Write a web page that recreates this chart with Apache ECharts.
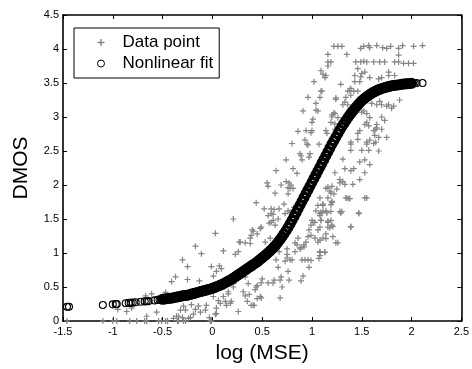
<!DOCTYPE html>
<html>
<head>
<meta charset="utf-8">
<script src="https://cdn.jsdelivr.net/npm/echarts@6/dist/echarts.min.js"></script>
<style>html,body{margin:0;padding:0;background:#fff}#c{width:472px;height:369px}</style>
</head>
<body>
<div id="c"></div>
<script>
// ---- Data ----
var seriesNames = ['Data point', 'Nonlinear fit'];
var xTickValues = [-1.5, -1, -0.5, 0, 0.5, 1, 1.5, 2, 2.5];
var yTickValues = [0, 0.5, 1, 1.5, 2, 2.5, 3, 3.5, 4, 4.5];

// scatter "+" points: [log(MSE), DMOS]
var dataPoints = [
 [-1.46,0],[-1.10,0],[-1.0,0],[-0.96,0],[-0.83,0],[-0.76,0],[-0.68,0],[-0.66,0],[-0.54,0],[-0.51,0],
 [-0.47,0],[-0.45,0],[-0.35,0],[-0.34,0],[-0.29,0],[-0.27,0],[-0.02,0],[-0.01,0],
 [-0.95,0.17],[-0.86,0.14],[-0.81,0.19],[-0.67,0.37],[-0.56,0.13],[-0.47,0.42],[-0.66,0.07],[-0.61,0.40],
 [-0.17,1.1],[-0.11,0.99],[0.11,1.03],[0.03,1.29],[0.21,1.5],[-0.3,0.9],[-0.25,0.8],[-0.37,0.65],[-0.41,0.58],
 [-0.25,0.61],[-0.13,0.59],[0.01,0.66],[0.07,0.81],[0.09,0.77],[0.04,0.73],[-0.01,0.8],
 [-0.29,0.22],[-0.21,0.24],[-0.14,0.22],[-0.06,0.23],[-0.27,0.16],[-0.07,0.16],[0.03,0.1],[-0.03,0.05],
 [-0.34,0.07],[-0.3,0.05],[-0.22,0.05],[-0.32,0.16],[-0.17,0.17],[-0.12,0.13],[-0.19,0.1],[-0.24,0.04],
 [-0.39,0.04],[-0.36,0.07],
 [0.16,0.4],[0.21,0.5],[0.19,0.29],[0.13,0.29],[0.08,0.26],[0.04,0.19],[0.26,0.14],[0.06,0.3],[0.11,0.36],
 [0.01,0.36],[0.18,0.26],[0.14,0.23],[0.04,0.11],
 [0.44,1.74],[0.4,1.34],[0.38,1.22],[0.28,1.16],[0.33,1.15],[0.23,0.98],[0.26,1.02],[0.33,0.65],[0.36,0.55],
 [0.21,0.55],[0.43,0.46],[0.16,0.43],[0.31,0.43],[0.33,0.37],[0.35,0.29],[0.41,0.23],
 [0.74,2.37],[0.89,2.43],[0.9,2.37],[0.97,2.41],[0.81,2.24],[0.85,2.17],[0.64,2.21],[0.56,1.98],[0.69,2.0],
 [0.74,2.05],[0.79,2.0],[0.81,1.95],[0.63,1.88],[0.76,1.87],[0.52,1.65],[0.59,1.65],[0.67,1.65],[0.76,1.62],
 [0.61,1.57],[0.57,1.44],[0.61,1.48],[0.49,1.38],[0.48,1.36],[0.41,1.32],[0.45,1.28],[0.53,1.16],[0.58,1.22],
 [0.63,1.12],[0.38,1.14],[0.64,0.9],[0.73,0.88],[0.75,0.98],[0.78,0.9],[0.66,0.79],[0.76,0.73],[0.69,0.65],
 [0.5,0.62],[0.49,0.56],[0.56,0.56],[0.61,0.56],[0.45,0.52],[0.68,0.6],[0.77,0.6],[0.48,0.36],[0.45,0.33],
 [0.68,0.34],[0.39,0.23],[0.89,0.59],[0.91,0.66],[0.93,0.9],[0.96,0.9],[0.92,1.09],[0.94,1.16],[0.99,1.26],
 [1.03,1.22],[1.08,1.38],[1.01,1.45],[1.08,1.58],[1.14,1.62],[1.11,1.22],[1.08,1.01],[1.13,1.01],[0.86,1.22],
 [0.89,1.08],[0.83,1.02],[1.06,1.7],[1.14,1.95],
 [0.55,2.03],[0.77,2.03],[0.78,1.95],[1.22,1.87],[1.28,2.03],[1.35,1.81],[1.37,1.8],[1.55,1.81],[0.59,1.58],
 [0.62,1.64],[0.72,1.72],[0.82,1.67],[1.04,1.62],[1.11,1.7],[1.15,1.59],[1.29,1.59],[1.47,1.58],[1.0,1.48],
 [0.97,1.34],[1.09,1.48],[1.19,1.48],[1.2,1.41],[1.39,1.38],[0.59,1.45],[0.39,1.26],[0.27,1.16],[0.55,1.05],
 [0.67,1.02],[0.75,1.06],[0.75,0.93],[0.8,0.9],[0.9,0.9],[0.85,1.12],[0.92,1.12],[0.99,0.89],[1.07,0.92],
 [0.97,0.79],[1.24,1.15],[0.62,0.6],[0.7,0.5],[0.44,0.5],[0.37,0.39],[0.49,0.34],[0.42,0.23],
 [1.39,2.51],[1.5,2.51],[1.57,2.51],[1.67,2.5],[1.31,2.38],[1.48,2.34],[1.53,2.37],[1.58,2.3],[1.33,2.24],
 [1.39,2.21],[1.42,2.24],[1.23,2.18],[1.53,2.18],[1.28,2.08],[1.31,2.05],[1.41,2.01],[1.33,2.01],[1.48,2.08],
 [1.16,1.97],[1.25,1.94],[1.19,1.88],[1.34,1.81],[1.38,1.8],[1.53,1.81],[1.08,1.81],[1.11,1.72],[1.2,1.74],
 [1.19,1.71],[1.11,1.61],[1.19,1.61],[1.28,1.61],[1.3,1.61],[1.47,1.59],[1.08,1.55],[1.09,1.48],[1.16,1.47],
 [1.16,1.38],[1.21,1.39],[1.39,1.39],[1.14,1.28],[1.14,1.21],[1.08,1.19],[1.26,1.15],[1.08,1.02],[1.08,0.96],
 [1.13,1.01],
 [0.99,2.77],[0.96,2.59],[0.76,1.96],[1.2,1.98],[1.18,1.91],[1.16,1.81],[1.2,1.76],[1.09,1.6],[0.56,1.55],
 [0.73,1.58],[0.78,1.6],[0.63,1.41],[0.66,1.5],[0.99,1.41],[1.03,1.45],[1.06,1.34],[1.16,1.45],[1.18,1.37],
 [1.21,1.24],[0.96,1.24],[1.06,1.16],[0.83,1.15],[0.88,1.06],
 [1.22,4.04],[1.26,4.04],[1.30,4.04],[1.16,3.92],[1.35,3.92],[1.16,3.81],[1.19,3.81],[1.16,3.75],[1.09,3.68],
 [1.14,3.61],[1.13,3.58],[1.02,3.52],[1.1,3.38],[0.96,3.29],[1.08,3.29],[1.24,3.26],[1.04,3.2],[0.91,3.09],
 [1.04,3.1],[1.06,3.09],[1.2,3.03],[1.01,2.97],[1.0,2.92],[1.23,2.9],[0.86,2.79],[0.94,2.8],[1.0,2.8],
 [1.15,2.76],[1.23,2.82],[0.8,2.61],[0.93,2.66],[0.95,2.6],[1.07,2.6],[0.88,2.46],[0.98,2.46],
 [1.49,4.01],[1.52,4.04],[1.57,4.05],[1.58,4.02],[1.65,4.05],[1.71,4.02],[1.75,4.01],[1.79,4.04],[1.87,4.01],
 [1.91,4.05],[2.02,4.04],[2.11,4.05],[1.87,3.91],[1.44,3.81],[1.49,3.81],[1.52,3.82],[1.55,3.81],[1.62,3.81],
 [1.68,3.81],[1.73,3.81],[1.83,3.81],[1.87,3.81],[1.92,3.79],[1.97,3.79],[2.02,3.79],[1.46,3.71],[1.53,3.66],
 [1.5,3.64],[1.43,3.61],[1.49,3.59],[1.58,3.58],[1.67,3.56],[1.7,3.58],[1.77,3.61],[1.83,3.61],[1.77,3.66],
 [1.48,3.52],[1.43,3.52],[1.29,3.48],[1.39,3.42],[1.42,3.38],[1.36,3.38],[1.46,3.38],[1.58,3.39],[1.24,3.28],
 [1.34,3.29],[1.33,3.22],[1.31,3.18],[1.88,3.25],[1.65,3.18],[1.7,3.18],[1.75,3.16],[1.8,3.13],[1.23,3.05],
 [1.5,3.07],[1.55,3.05],[1.2,3.0],[1.58,2.99],[1.7,3.0],[1.73,2.95],[1.53,2.89],[1.57,2.87],[1.65,2.84],
 [1.62,2.8],[1.75,2.7],[1.46,2.76],[1.63,2.73],[1.39,2.63],[1.46,2.67],[1.55,2.63],[1.62,2.61],[1.67,2.7],
 [1.11,3.63],[1.09,3.38],[1.38,3.39],[1.39,3.32],[1.36,3.18],[1.6,3.2],[1.68,3.23],[1.77,3.18],[1.82,3.16],
 [1.22,3.06],[1.26,2.99],[1.52,3.09],[1.55,2.92],[1.65,2.89],[1.64,2.82],[1.7,2.82],[1.48,2.8],[1.58,2.66],
 [1.55,2.6],[1.39,2.6],[1.64,2.63],[1.14,2.8],[1.19,2.92]
];

// nonlinear fit circles, sparse low-MSE part: x values and fitted DMOS values
var fitSparseX = [-1.46,-1.44,-1.10,-1.00,-0.97,-0.96,-0.87,-0.84,-0.82,-0.80,-0.77,-0.72,-0.68,-0.66,-0.64,-0.58,-0.55,-0.53];
var fitSparseY = [0.21,0.21,0.235,0.245,0.248,0.25,0.262,0.266,0.268,0.27,0.275,0.283,0.288,0.29,0.293,0.303,0.31,0.315];
// nonlinear fit circles, dense part
var fitX = [
 -0.50,-0.48,-0.46,-0.44,-0.42,-0.40,-0.38,-0.36,-0.34,-0.32,-0.30,-0.28,-0.26,-0.24,-0.22,-0.20,-0.18,-0.16,-0.14,-0.12,
 -0.10,-0.08,-0.06,-0.04,-0.02,0.00,0.02,0.04,0.06,0.08,0.10,0.12,0.14,0.16,0.18,0.20,0.22,0.24,0.26,0.28,0.30,0.32,0.34,
 0.36,0.38,0.40,0.42,0.44,0.46,0.48,0.50,0.52,0.54,0.56,0.58,0.60,0.62,0.64,0.66,0.68,0.70,0.72,0.74,0.76,0.78,0.80,0.82,
 0.84,0.86,0.88,0.90,0.92,0.94,0.96,0.98,1.00,1.02,1.04,1.06,1.08,1.10,1.12,1.14,1.16,1.18,1.20,1.22,1.24,1.26,1.28,1.30,
 1.32,1.34,1.36,1.38,1.40,1.42,1.44,1.46,1.48,1.50,1.52,1.54,1.56,1.58,1.60,1.62,1.64,1.66,1.68,1.70,1.72,1.74,1.76,1.78,
 1.80,1.82,1.84,1.86,1.88,1.90,1.92,1.94,1.96,1.98,2.00];
var fitY = [
 0.320,0.324,0.328,0.332,0.336,0.340,0.346,0.352,0.358,0.364,0.370,0.374,0.378,0.384,0.392,0.400,0.408,0.416,0.424,0.432,
 0.440,0.448,0.456,0.464,0.472,0.480,0.492,0.504,0.516,0.528,0.540,0.556,0.572,0.588,0.604,0.620,0.640,0.660,0.680,0.700,0.720,0.740,0.760,
 0.780,0.800,0.820,0.840,0.860,0.882,0.906,0.930,0.954,0.978,1.004,1.032,1.060,1.092,1.124,1.160,1.200,1.240,1.284,1.328,1.376,1.428,1.480,1.536,
 1.592,1.648,1.704,1.760,1.816,1.872,1.928,1.984,2.040,2.096,2.152,2.208,2.264,2.320,2.376,2.432,2.488,2.544,2.600,2.652,2.704,2.756,2.808,2.860,
 2.904,2.948,2.992,3.032,3.070,3.106,3.142,3.176,3.208,3.240,3.264,3.288,3.310,3.330,3.350,3.366,3.382,3.396,3.408,3.420,3.428,3.436,3.444,3.452,
 3.460,3.464,3.468,3.472,3.476,3.480,3.484,3.488,3.490,3.493,3.495];
// isolated circles at the high end
var fitEndX = [2.03, 2.05, 2.11];
var fitEndY = [3.497, 3.499, 3.500];

// ---- Chart ----
function pairs(xs, ys) { return xs.map(function (x, i) { return [x, ys[i]]; }); }
var plusPath = 'path://M4,0L6,0L6,4L10,4L10,6L6,6L6,10L4,10L4,6L0,6L0,4L4,4Z';
var font = 'Liberation Sans, Arial, Helvetica, sans-serif';
var noFill = 'rgba(0,0,0,0)';

var chart = echarts.init(document.getElementById('c'), null, { renderer: 'canvas' });
var axisLineStyle = { color: '#000', width: 1.6 };
function frameAxis(pos, extra) {
  var a = {
    position: pos,
    axisLine: { onZero: false, lineStyle: axisLineStyle },
    axisTick: { inside: true, length: 4, lineStyle: { color: '#000' } },
    splitLine: { show: false }
  };
  for (var k in extra) a[k] = extra[k];
  return a;
}
chart.setOption({
  animation: false,
  backgroundColor: '#fff',
  grid: { left: 63, right: 7, top: 15, bottom: 41, containLabel: false },
  legend: {
    left: 74, top: 28, orient: 'vertical',
    data: [
      { name: seriesNames[0], icon: plusPath, itemStyle: { color: '#858585', borderWidth: 0 } },
      { name: seriesNames[1], icon: 'circle', itemStyle: { color: noFill, borderColor: '#000', borderWidth: 1 } }
    ],
    itemWidth: 7, itemHeight: 7, itemGap: 4,
    padding: [6, 6, 6, 23],
    borderColor: '#000', borderWidth: 1, backgroundColor: '#fff',
    textStyle: { fontFamily: font, fontSize: 17, color: '#000', lineHeight: 17, padding: [0, 0, 0, 13] }
  },
  xAxis: [
    frameAxis('bottom', {
      type: 'value', min: xTickValues[0], max: xTickValues[xTickValues.length - 1], interval: 0.5,
      axisLabel: { fontFamily: font, fontSize: 11, color: '#000', margin: 5, showMinLabel: true, showMaxLabel: true },
      name: 'log (MSE)', nameLocation: 'middle', nameGap: 22,
      nameTextStyle: { fontFamily: font, fontSize: 21, color: '#000' }
    }),
    frameAxis('top', {
      type: 'value', min: xTickValues[0], max: xTickValues[xTickValues.length - 1], interval: 0.5,
      axisLabel: { show: false }
    })
  ],
  yAxis: [
    frameAxis('left', {
      type: 'value', min: yTickValues[0], max: yTickValues[yTickValues.length - 1], interval: 0.5,
      axisLabel: { fontFamily: font, fontSize: 11, color: '#000', margin: 4, showMinLabel: true, showMaxLabel: true },
      name: 'DMOS', nameLocation: 'middle', nameGap: 31, nameRotate: 90,
      nameTextStyle: { fontFamily: font, fontSize: 21, color: '#000' }
    }),
    frameAxis('right', {
      type: 'value', min: yTickValues[0], max: yTickValues[yTickValues.length - 1], interval: 0.5,
      axisLabel: { show: false }
    })
  ],
  series: [{
    name: seriesNames[0], type: 'scatter', xAxisIndex: 0, yAxisIndex: 0,
    symbol: plusPath, symbolSize: 6,
    itemStyle: { color: '#858585', opacity: 1 },
    data: dataPoints, z: 2
  }, {
    name: seriesNames[1], type: 'scatter', xAxisIndex: 0, yAxisIndex: 0,
    symbol: 'circle', symbolSize: 7,
    itemStyle: { color: noFill, borderColor: '#000', borderWidth: 1.1, opacity: 1 },
    data: pairs(fitSparseX, fitSparseY).concat(pairs(fitEndX, fitEndY)), z: 3
  }, {
    name: seriesNames[1], type: 'scatter', xAxisIndex: 0, yAxisIndex: 0,
    symbol: 'circle', symbolSize: 8,
    itemStyle: { color: noFill, borderColor: '#000', borderWidth: 3, opacity: 1 },
    data: pairs(fitX, fitY), z: 3
  }]
});
</script>
</body>
</html>
